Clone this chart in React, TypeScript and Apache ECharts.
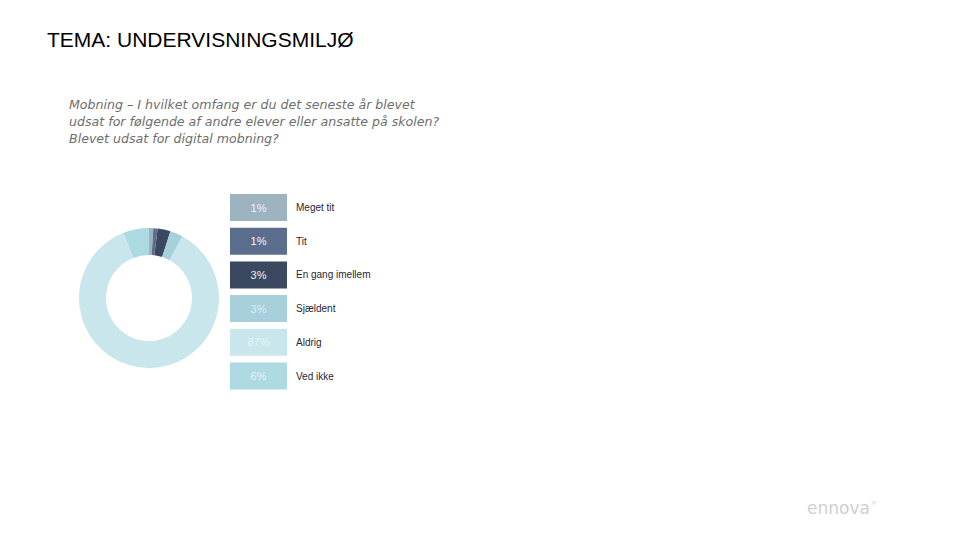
import React, { useEffect, useRef } from "react";
import * as echarts from "echarts";

const categories = ["Meget tit", "Tit", "En gang imellem", "Sjældent", "Aldrig", "Ved ikke"];
const values = [1, 1, 3, 3, 87, 6];
const colors = ["#9db3bf", "#5c6e8e", "#3b4960", "#a8d0dc", "#c8e6ec", "#acd9e2"];
const boxTextColors = ["#eef3f6", "#f4f6fa", "#eef1f5", "#d9eef4", "#e6f4f7", "#e4f4f7"];
const titleText = "TEMA: UNDERVISNINGSMILJØ";
const subtitleLines = [
  "Mobning – I hvilket omfang er du det seneste år blevet",
  "udsat for følgende af andre elever eller ansatte på skolen?",
  "Blevet udsat for digital mobning?",
];

export default function App() {
  const ref = useRef<HTMLDivElement>(null);
  useEffect(() => {
    if (!ref.current) return;
    const chart = echarts.init(ref.current, undefined, { renderer: "svg" });
    const rich: Record<string, any> = {
      n: {
        fontFamily: "Liberation Sans",
        fontSize: 10,
        color: "#1f2633",
        padding: [0, 0, 0, 9],
      },
    };
    colors.forEach((c, i) => {
      rich["b" + i] = {
        width: 57,
        height: 27,
        lineHeight: 27,
        align: "center",
        backgroundColor: c,
        color: boxTextColors[i],
        fontFamily: "Liberation Sans",
        fontSize: 11,
      };
    });
    chart.setOption({
      animation: false,
      backgroundColor: "#ffffff",
      title: [
        {
          text: titleText,
          left: 42,
          top: 24,
          textStyle: {
            fontFamily: "Liberation Sans",
            fontSize: 21,
            fontWeight: "normal",
            color: "#000000",
          },
        },
        {
          text: subtitleLines.join("\n"),
          left: 64,
          top: 91,
          textStyle: {
            fontFamily: "DejaVu Sans",
            fontStyle: "italic",
            fontSize: 12.6,
            lineHeight: 17,
            fontWeight: "normal",
            color: "#6e6e6e",
          },
        },
        {
          text: "{a|ennova}{r|®}",
          left: 802,
          top: 494,
          textStyle: {
            fontWeight: "normal",
            rich: {
              a: {
                fontFamily: "DejaVu Sans",
                fontSize: 17,
                fontWeight: "normal",
                color: "#cfcfcf",
              },
              r: {
                fontFamily: "DejaVu Sans",
                fontSize: 6,
                fontWeight: "normal",
                color: "#d6d6d6",
                verticalAlign: "top",
                padding: [0, 0, 8, 1],
              },
            },
          },
        },
      ],
      legend: {
        orient: "vertical",
        left: 225,
        top: 194,
        padding: 0,
        itemWidth: 0,
        itemHeight: 0,
        itemGap: 6.7,
        icon: "rect",
        selectedMode: false,
        data: categories,
        formatter: (name: string) => {
          const i = categories.indexOf(name);
          return `{b${i}|${values[i]}%}{n|${name}}`;
        },
        textStyle: { rich },
      },
      series: [
        {
          type: "pie",
          center: [149, 298],
          radius: [43, 70],
          startAngle: 90,
          clockwise: true,
          label: { show: false },
          labelLine: { show: false },
          emphasis: { disabled: true },
          itemStyle: { borderWidth: 0 },
          data: categories.map((name, i) => ({
            name,
            value: values[i],
            itemStyle: { color: colors[i] },
          })),
        },
      ],
    });
    return () => chart.dispose();
  }, []);
  return (
    <div
      ref={ref}
      style={{ position: "fixed", left: 0, top: 0, width: 960, height: 540 }}
    />
  );
}
